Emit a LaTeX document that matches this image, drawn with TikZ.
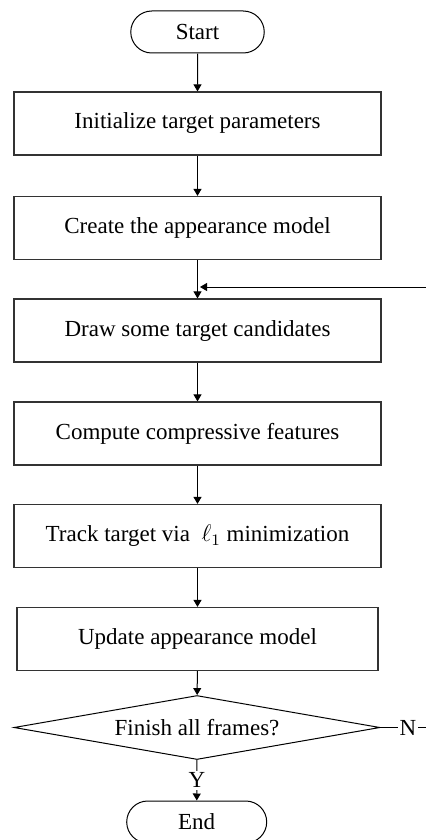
\documentclass[tikz,border=0pt]{standalone}
\usepackage{fontspec}
\setmainfont{Liberation Serif}
\usetikzlibrary{shapes.misc,shapes.geometric,arrows.meta,positioning}

\begin{document}
\begin{tikzpicture}[x=0.5pt, y=-0.5pt,
  >={Triangle[length=3.5pt,width=4pt]},
  font=\fontsize{11.5}{14}\selectfont,
  term/.style={draw, rounded rectangle, line width=0.5pt, minimum height=21pt, inner sep=2pt},
  stepbox/.style={draw=black!80, line width=0.6pt, minimum width=183.5pt, minimum height=31.5pt, inner sep=2pt},
  test/.style={draw, diamond, aspect=5.7, line width=0.5pt, minimum width=183pt, minimum height=32pt, inner sep=0pt},
  flow/.style={->, line width=0.5pt}
]
\clip (0,0) rectangle (426,840);
\node[term, minimum width=70.75pt] (start) at (197.5,32)  {Start};
\node[stepbox] (init)   at (197.5,123.5) {Initialize target parameters};
\node[stepbox] (model)  at (197.5,228)   {Create the appearance model};
\node[stepbox] (cands)  at (197.5,330.5) {Draw some target candidates};
\node[stepbox] (feat)   at (197.5,433.5) {Compute compressive features};
\node[stepbox] (track)  at (197.5,536)   {Track target via~ $\ell_1$ minimization};
\node[stepbox, minimum width=180.5pt] (update) at (197.5,639) {Update appearance model};
\node[test] (finish) at (197,727.5) {Finish all frames?};
\node[term, minimum width=74pt] (end) at (196.7,822) {End};
\coordinate (loopin)  at (426,287);
\coordinate (join)    at (200,287);
\coordinate (loopout) at (426,727.5);
\draw[flow] (start)  -- (init);
\draw[flow] (init)   -- (model);
\draw[flow] (model)  -- (cands);
\draw[flow] (cands)  -- (feat);
\draw[flow] (feat)   -- (track);
\draw[flow] (track)  -- (update);
\draw[flow] (update) -- (finish);
\draw[flow] (finish) -- node[fill=white, inner sep=1pt]{Y} (end);
\draw[line width=0.5pt] (finish.east) -- node[pos=0.6, fill=white, inner sep=1pt]{N} (loopout);
\draw[flow] (loopin) -- (join);
\end{tikzpicture}
\end{document}
